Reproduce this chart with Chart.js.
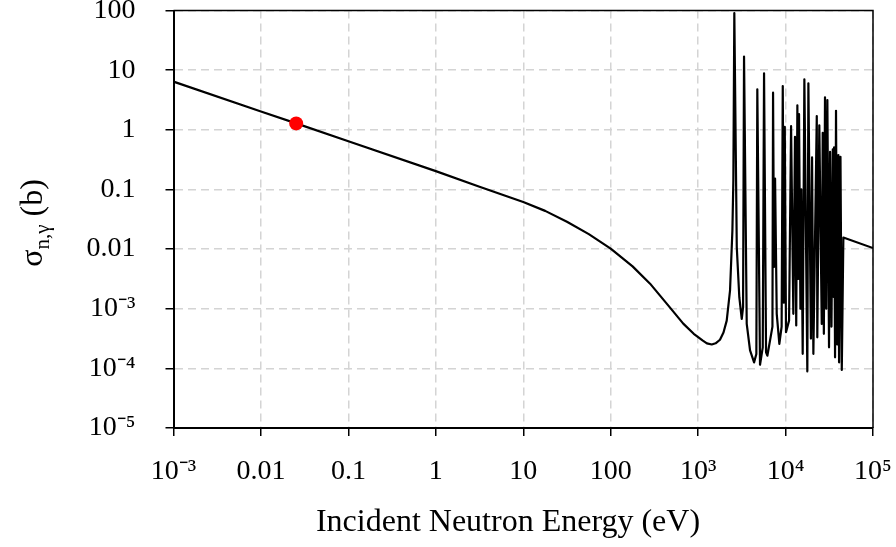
<!DOCTYPE html>
<html>
<head>
<meta charset="utf-8">
<script src="https://cdn.jsdelivr.net/npm/chart.js@4.4.1/dist/chart.umd.min.js"></script>
<style>
  html, body { margin: 0; padding: 0; background: #fff; }
  #wrap { width: 896px; height: 547px; }
</style>
</head>
<body>
<div id="wrap"><canvas id="xsChart" width="896" height="547"></canvas></div>
<script>
// Incident neutron energy (eV) and capture cross section (b)
const energy = [
  0.001, 0.01, 0.0253, 0.1, 1, 3.16, 10, 17.8, 31.6, 56.2,
  100, 178, 282, 447, 676, 891, 1122, 1259, 1432, 1585,
  1778, 1950, 2123, 2317, 2466, 2529, 2594, 2767, 2958, 3155,
  3266, 3350, 3597, 3926, 4365, 4634, 4753, 5105, 5483, 5675,
  5984, 6194, 7079, 7194, 7379, 7586, 7925, 8492, 9016, 9290,
  9550, 9795, 10116, 10965, 11561, 12274, 12823, 13243, 13646, 13964,
  14256, 14791, 15136, 15704, 16406, 17742, 18239, 19498, 20091, 20797,
  22751, 23067, 24322, 25942, 26607, 27416, 28249, 29174, 30061, 31405,
  32285, 33497, 34674, 35237, 35892, 36813, 37757, 38905, 40179, 40926,
  42462, 43954, 45814, 100000
];
const sigma = [
  6.41, 2.03, 1.28, 0.641, 0.203, 0.111, 0.0617, 0.0437, 0.0288, 0.0178,
  0.0102, 5.13e-3, 2.63e-3, 1.17e-3, 5.62e-4, 3.80e-4, 2.95e-4, 2.63e-4, 2.51e-4, 2.63e-4,
  3.02e-4, 3.98e-4, 6.31e-4, 2.02e-3, 2.06e-2, 0.143, 90.4, 1.08e-2, 1.56e-3, 6.76e-4,
  1.06e-3, 16.9, 5.57e-4, 2.0e-4, 1.26e-4, 1.74e-4, 4.78, 1.15e-4, 2.25e-4, 8.87,
  1.86e-4, 1.63e-4, 5.01e-4, 4.19, 5.01e-3, 0.152, 8.2e-4, 2.57e-4, 5.01e-4, 5.42,
  1.26e-3, 1.12, 4.03e-4, 6.31e-4, 1.15, 8.2e-4, 0.762, 5.25e-4, 2.57, 3.16e-3,
  1.84, 1.0e-3, 0.1, 1.75e-4, 7.03, 8.9e-5, 6.03, 3.16e-4, 0.344, 1.75e-4,
  1.70, 3.31e-4, 1.19, 5.57e-4, 0.891, 3.80e-4, 3.51, 1.0e-3, 3.16, 2.25e-4,
  0.427, 5.01e-4, 0.468, 1.58e-3, 0.506, 1.53e-4, 2.08, 2.51e-4, 0.376, 1.26e-4,
  0.352, 9.4e-5, 0.0156, 0.0104
];

// thermal point (0.0253 eV)
const thermalEnergy = [0.0253];
const thermalSigma = [1.28];

const xTicks = [1e-3, 1e-2, 0.1, 1, 10, 100, 1e3, 1e4, 1e5];
const xTickLabels = ['10⁻³', '0.01', '0.1', '1', '10', '100', '10³', '10⁴', '10⁵'];
const yTicks = [1e-5, 1e-4, 1e-3, 0.01, 0.1, 1, 10, 100];
const yTickLabels = ['10⁻⁵', '10⁻⁴', '10⁻³', '0.01', '0.1', '1', '10', '100'];

const serif = "'Liberation Serif', 'Times New Roman', serif";

// axis titles (y title needs a subscript), plus the top/right frame
const titlesAndFrame = {
  id: 'titlesAndFrame',
  afterDatasetsDraw(chart) {
    const { ctx, chartArea: a } = chart;
    ctx.save();
    ctx.strokeStyle = '#000';
    ctx.lineWidth = 1.5;
    ctx.beginPath();
    ctx.moveTo(a.left, a.top);
    ctx.lineTo(a.right, a.top);
    ctx.lineTo(a.right, a.bottom);
    ctx.stroke();
    ctx.restore();
  },
  afterDraw(chart) {
    const ctx = chart.ctx;
    ctx.save();
    ctx.fillStyle = '#000';
    ctx.textBaseline = 'alphabetic';

    // x title
    ctx.font = '32px ' + serif;
    ctx.textAlign = 'center';
    ctx.fillText('Incident Neutron Energy (eV)', 508, 531);

    // y title, rotated
    ctx.translate(42, 223);
    ctx.rotate(-Math.PI / 2);
    ctx.textAlign = 'left';
    const big = '32px ' + serif, small = '21px ' + serif;
    ctx.font = big;
    const w1 = ctx.measureText('σ').width;
    const w3 = ctx.measureText(' (b)').width;
    ctx.font = small;
    const w2 = ctx.measureText('n,γ').width;
    let x = -(w1 + w2 + w3) / 2;
    ctx.font = big;
    ctx.fillText('σ', x, 0);
    x += w1;
    ctx.font = small;
    ctx.fillText('n,γ', x, 7);
    x += w2;
    ctx.font = big;
    ctx.fillText(' (b)', x, 0);
    ctx.restore();
  }
};

const ctx = document.getElementById('xsChart').getContext('2d');
new Chart(ctx, {
  type: 'line',
  data: {
    datasets: [
      {
        label: 'Thermal',
        data: thermalEnergy.map((e, i) => ({ x: e, y: thermalSigma[i] })),
        showLine: false,
        pointRadius: 7,
        pointBackgroundColor: '#ff0000',
        pointBorderWidth: 0
      },
      {
        label: 'Capture cross section',
        data: energy.map((e, i) => ({ x: e, y: sigma[i] })),
        borderColor: '#000',
        borderWidth: 2.2,
        borderJoinStyle: 'round',
        pointRadius: 0,
        tension: 0,
        fill: false
      }
    ]
  },
  options: {
    responsive: false,
    animation: false,
    layout: { padding: { left: 0, right: 23, top: 10.5, bottom: 0 } },
    plugins: { legend: { display: false }, tooltip: { enabled: false } },
    scales: {
      x: {
        type: 'logarithmic',
        min: 1e-3,
        max: 1e5,
        afterBuildTicks: s => { s.ticks = xTicks.map(v => ({ value: v })); },
        afterFit: s => { s.height = 119; s.paddingLeft = 0; s.paddingRight = 0; },
        ticks: {
          color: '#000',
          padding: 22,
          maxRotation: 0,
          autoSkip: false,
          font: { family: serif, size: 28, lineHeight: 1 },
          callback: (v, i) => xTickLabels[i]
        },
        grid: { color: '#d4d4d4', lineWidth: 1.5, tickColor: '#000', tickWidth: 1.5, tickLength: 8 },
        border: { color: '#000', width: 2, dash: [8, 5] }
      },
      y: {
        type: 'logarithmic',
        min: 1e-5,
        max: 100,
        afterBuildTicks: s => { s.ticks = yTicks.map(v => ({ value: v })); },
        afterFit: s => { s.width = 173.5; s.paddingTop = 0; s.paddingBottom = 0; },
        ticks: {
          color: '#000',
          padding: 30,
          autoSkip: false,
          font: { family: serif, size: 28, lineHeight: 1 },
          callback: (v, i) => yTickLabels[i]
        },
        grid: { color: '#d4d4d4', lineWidth: 1.5, tickColor: '#000', tickWidth: 1.5, tickLength: 8 },
        border: { color: '#000', width: 2, dash: [8, 5] }
      }
    }
  },
  plugins: [titlesAndFrame]
});
</script>
</body>
</html>
